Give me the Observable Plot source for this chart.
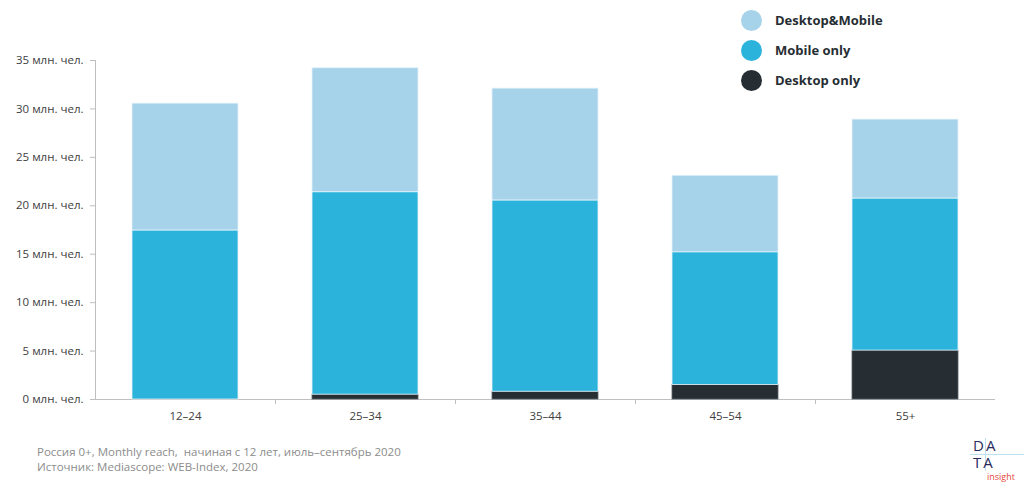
<!DOCTYPE html>
<html>
<head>
<meta charset="utf-8">
<script src="https://cdn.jsdelivr.net/npm/d3@7"></script>
<script src="https://cdn.jsdelivr.net/npm/@observablehq/plot@0.6"></script>
<style>
  html, body { margin: 0; padding: 0; background: #fff; }
  #wrap { position: relative; width: 1024px; height: 485px; font-family: "Open Sans", sans-serif; overflow: hidden; }
  #legend { position: absolute; left: 741px; top: 5px; }
  .li { display: flex; align-items: center; height: 30px; line-height: 16px; font-weight: bold; font-size: 13px; color: #262e33; }
  .sw { width: 21px; height: 21px; border-radius: 50%; margin-right: 13px; flex: none; }
  #foot { position: absolute; left: 37px; top: 444px; font-size: 11.5px; color: #8c8c8c; line-height: 15px; white-space: pre; }
  #logo { position: absolute; left: 966px; top: 437px; width: 58px; height: 48px; }
  #logo .l { position: absolute; font-family: 'Open Sans', sans-serif; color: #2b2b5c; letter-spacing: 2px; font-size: 15px; line-height: 17px; white-space: pre; }
</style>
</head>
<body>
<div id="wrap">
  <div id="chart"></div>
  <div id="legend"></div>
  <div id="foot"></div>
  <div id="logo">
    <div style="position:absolute;left:4px;top:17px;width:54px;height:1px;background:#bfe0f0"></div>
    <div style="position:absolute;left:19px;top:1px;width:1px;height:33px;background:#bfe0f0"></div>
    <div class="l" id="logotext" style="left:7px;top:0px"></div>
    <div style="position:absolute;left:21px;top:35px;font:9px 'Open Sans',sans-serif;color:#e8453c;line-height:10px;height:10px">insight</div>
  </div>
</div>
<script>
const categories = ["12–24", "25–34", "35–44", "45–54", "55+"];
const desktopOnly = [0, 0.5, 0.8, 1.5, 5.05];
const mobileOnly = [17.45, 20.9, 19.75, 13.7, 15.7];
const desktopMobile = [13.1, 12.8, 11.55, 7.9, 8.15];
const seriesNames = ["Desktop only", "Mobile only", "Desktop&Mobile"];
const seriesColors = ["#262e33", "#2bb3dc", "#a6d3ea"];
const yTicks = [0, 5, 10, 15, 20, 25, 30, 35];
const footLines = ["Россия 0+, Monthly reach,  начиная с 12 лет, июль–сентябрь 2020", "Источник: Mediascope: WEB-Index, 2020"];
const legendOrder = ["Desktop&Mobile", "Mobile only", "Desktop only"];

document.getElementById("logotext").textContent = "DA\nTA";

const seriesValues = [desktopOnly, mobileOnly, desktopMobile];
const data = [];
seriesNames.forEach((s, si) => categories.forEach((c, ci) => data.push({cat: c, series: s, value: seriesValues[si][ci]})));

const chart = Plot.plot({
  width: 1024,
  height: 485,
  marginTop: 60,
  marginBottom: 86,
  marginLeft: 95,
  marginRight: 29,
  style: {fontFamily: "'Open Sans', sans-serif", fontSize: "11.5px", color: "#404040", background: "#fff"},
  x: {domain: categories, paddingInner: 0.41, paddingOuter: 0.205, label: null},
  y: {domain: [0, 35], label: null},
  color: {domain: seriesNames, range: seriesColors},
  marks: [
    Plot.frame({anchor: "left", stroke: "#bfbfbf"}),
    Plot.ruleY([0], {stroke: "#bfbfbf"}),
    Plot.barY(data, {x: "cat", y: "value", fill: "series", order: seriesNames, stroke: d => d.series === "Desktop only" ? "#5a6266" : "#e6f3fa", strokeWidth: 0.8}),
    Plot.axisY({ticks: yTicks, tickFormat: d => d + " млн. чел.", tickSize: 5, tickPadding: 7, stroke: "#bfbfbf", fill: "#404040", label: null}),
    Plot.axisX({tickSize: 0, tickPadding: 12, fill: "#404040", label: null}),
    Plot.axisX({ticks: categories.slice(1), tickFormat: () => "", tickSize: 5, dx: -90, stroke: "#bfbfbf", label: null})
  ]
});
document.getElementById("chart").appendChild(chart);

const leg = document.getElementById("legend");
legendOrder.forEach(name => {
  const row = document.createElement("div");
  row.className = "li";
  const sw = document.createElement("div");
  sw.className = "sw";
  sw.style.background = seriesColors[seriesNames.indexOf(name)];
  row.appendChild(sw);
  row.appendChild(document.createTextNode(name));
  leg.appendChild(row);
});
const foot = document.getElementById("foot");
footLines.forEach(t => { const d = document.createElement("div"); d.textContent = t; foot.appendChild(d); });
</script>
</body>
</html>
